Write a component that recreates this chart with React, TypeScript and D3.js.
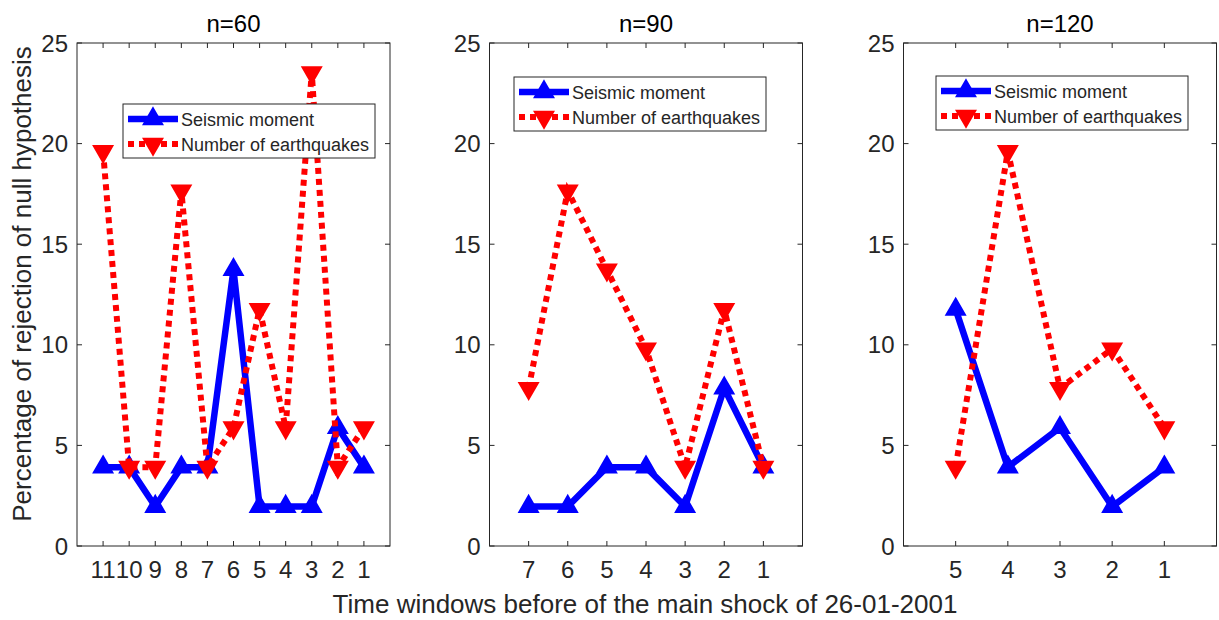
import * as d3 from "d3";
import { useEffect, useRef } from "react";

// panel titles and x tick labels (time windows, counted down to the main shock)
const titles = ["n=60", "n=90", "n=120"];
const windows60 = ["11", "10", "9", "8", "7", "6", "5", "4", "3", "2", "1"];
const windows90 = ["7", "6", "5", "4", "3", "2", "1"];
const windows120 = ["5", "4", "3", "2", "1"];

// percentage of rejection of null hypothesis
const moment60 = [3.92, 3.92, 1.96, 3.92, 3.92, 13.73, 1.96, 1.96, 1.96, 5.88, 3.92];
const quakes60 = [19.61, 3.92, 3.92, 17.65, 3.92, 5.88, 11.76, 5.88, 23.53, 3.92, 5.88];
const moment90 = [1.96, 1.96, 3.92, 3.92, 1.96, 7.84, 3.92];
const quakes90 = [7.84, 17.65, 13.73, 9.8, 3.92, 11.76, 3.92];
const moment120 = [11.76, 3.92, 5.88, 1.96, 3.92];
const quakes120 = [3.92, 19.61, 7.84, 9.8, 5.88];

const yTicks = [0, 5, 10, 15, 20, 25];
const seriesNames = ["Seismic moment", "Number of earthquakes"];

const W = 1219;
const H = 620;
const FONT = "'Liberation Sans', Arial, Helvetica, sans-serif";
const TXT = "#262626";
const BLUE = "#0000ff";
const RED = "#ff0000";

function App() {
  const ref = useRef(null);

  useEffect(() => {
    const svg = d3.select(ref.current);
    svg.selectAll("*").remove();

    const top = 43;
    const bottom = 546;
    const axW = 313;
    const lefts = [77, 489.5, 903.5];
    const legends = [
      { x: 123, y: 104 },
      { x: 514, y: 77 },
      { x: 936, y: 76 },
    ];
    const panels = [
      { labels: windows60, moment: moment60, quakes: quakes60 },
      { labels: windows90, moment: moment90, quakes: quakes90 },
      { labels: windows120, moment: moment120, quakes: quakes120 },
    ];

    const y = d3.scaleLinear().domain([0, 25]).range([bottom, top]);
    const tri = d3.symbol().type(d3.symbolTriangle).size(135);

    panels.forEach((p, i) => {
      const left = lefts[i];
      const x = d3
        .scaleLinear()
        .domain([0, p.labels.length + 1])
        .range([left, left + axW]);
      const g = svg.append("g");

      // box
      g.append("rect")
        .attr("x", left)
        .attr("y", top)
        .attr("width", axW)
        .attr("height", bottom - top)
        .attr("fill", "white")
        .attr("stroke", TXT)
        .attr("stroke-width", 1);

      // ticks inside, on all four sides
      p.labels.forEach((lab, j) => {
        const xx = x(j + 1);
        g.append("line").attr("x1", xx).attr("x2", xx).attr("y1", bottom).attr("y2", bottom - 5).attr("stroke", TXT);
        g.append("line").attr("x1", xx).attr("x2", xx).attr("y1", top).attr("y2", top + 5).attr("stroke", TXT);
        g.append("text")
          .attr("x", xx)
          .attr("y", bottom + 32)
          .attr("text-anchor", "middle")
          .attr("fill", TXT)
          .style("font", `24px ${FONT}`)
          .text(lab);
      });
      yTicks.forEach((t) => {
        const yy = y(t);
        g.append("line").attr("x1", left).attr("x2", left + 5).attr("y1", yy).attr("y2", yy).attr("stroke", TXT);
        g.append("line").attr("x1", left + axW).attr("x2", left + axW - 5).attr("y1", yy).attr("y2", yy).attr("stroke", TXT);
        g.append("text")
          .attr("x", left - 9)
          .attr("y", yy + 8.5)
          .attr("text-anchor", "end")
          .attr("fill", TXT)
          .style("font", `24px ${FONT}`)
          .text(t);
      });

      // title
      g.append("text")
        .attr("x", left + axW / 2)
        .attr("y", top - 11)
        .attr("text-anchor", "middle")
        .attr("fill", "#000")
        .style("font", `24px ${FONT}`)
        .text(titles[i]);

      const line = d3
        .line<number>()
        .x((_, j) => x(j + 1))
        .y((d) => y(d));

      // seismic moment, blue solid
      g.append("path")
        .attr("d", line(p.moment))
        .attr("fill", "none")
        .attr("stroke", BLUE)
        .attr("stroke-width", 6.5)
        .attr("stroke-linejoin", "round");
      g.selectAll(".m")
        .data(p.moment)
        .join("path")
        .attr("d", tri)
        .attr("transform", (d, j) => `translate(${x(j + 1)},${y(d)})`)
        .attr("fill", BLUE)
        .attr("stroke", BLUE)
        .attr("stroke-width", 2.5);

      // number of earthquakes, red dotted
      g.append("path")
        .attr("d", line(p.quakes))
        .attr("fill", "none")
        .attr("stroke", RED)
        .attr("stroke-width", 6)
        .attr("stroke-dasharray", "6 5");
      g.selectAll(".q")
        .data(p.quakes)
        .join("path")
        .attr("d", tri)
        .attr("transform", (d, j) => `translate(${x(j + 1)},${y(d)}) rotate(180)`)
        .attr("fill", RED)
        .attr("stroke", RED)
        .attr("stroke-width", 2.5);

      // legend
      const lg = legends[i];
      const lgG = g.append("g").attr("transform", `translate(${lg.x},${lg.y})`);
      lgG.append("rect")
        .attr("width", 252)
        .attr("height", 54)
        .attr("fill", "white")
        .attr("stroke", TXT)
        .attr("stroke-width", 1);
      seriesNames.forEach((name, k) => {
        const ly = 15 + k * 25;
        const col = k === 0 ? BLUE : RED;
        lgG.append("line")
          .attr("x1", 5)
          .attr("x2", 55)
          .attr("y1", ly)
          .attr("y2", ly)
          .attr("stroke", col)
          .attr("stroke-width", k === 0 ? 6.5 : 6)
          .attr("stroke-dasharray", k === 0 ? null : "6 5");
        lgG.append("path")
          .attr("d", tri)
          .attr("transform", `translate(30,${ly}) rotate(${k === 0 ? 0 : 180})`)
          .attr("fill", col)
          .attr("stroke", col)
          .attr("stroke-width", 2.5);
        lgG.append("text")
          .attr("x", 58)
          .attr("y", ly + 6.5)
          .attr("fill", TXT)
          .style("font", `18px ${FONT}`)
          .text(name);
      });
    });

    // shared axis labels
    svg.append("text")
      .attr("transform", `translate(31,284) rotate(-90)`)
      .attr("text-anchor", "middle")
      .attr("fill", TXT)
      .style("font", `26px ${FONT}`)
      .text("Percentage of rejection of null hypothesis");
    svg.append("text")
      .attr("x", 645)
      .attr("y", 613)
      .attr("text-anchor", "middle")
      .attr("fill", TXT)
      .style("font", `26px ${FONT}`)
      .text("Time windows before of the main shock of 26-01-2001");
  });

  return (
    <svg
      ref={ref}
      width={W}
      height={H}
      style={{ position: "absolute", left: 0, top: 0, background: "white" }}
    />
  );
}

export default App;
